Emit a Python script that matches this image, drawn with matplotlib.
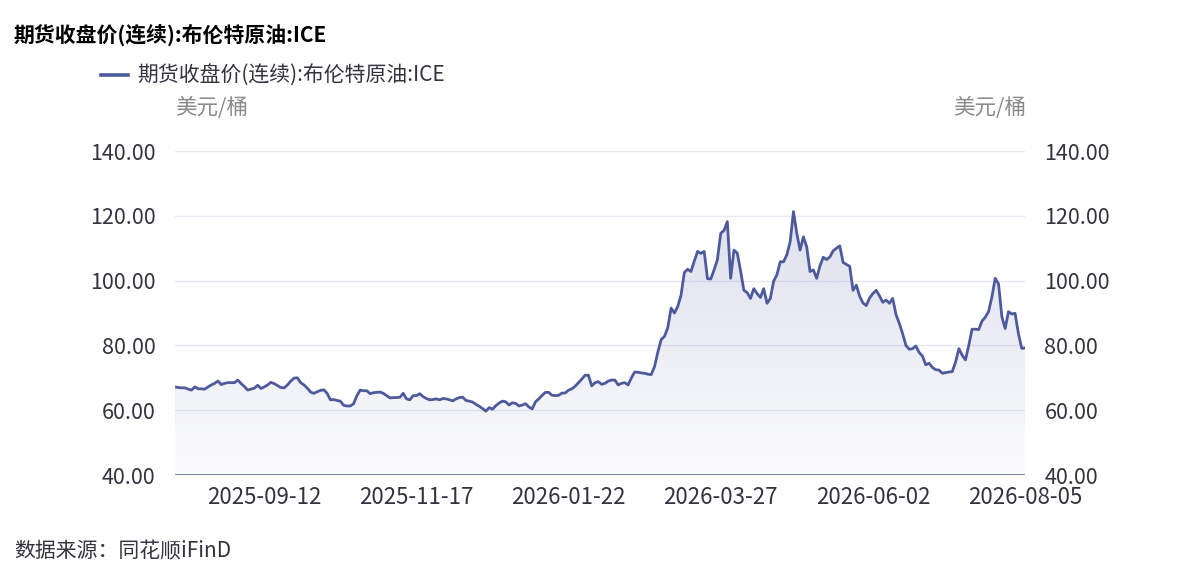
import numpy as np
import pandas as pd
import matplotlib
matplotlib.use("Agg")
import matplotlib.pyplot as plt
from matplotlib.patches import Polygon
from matplotlib.lines import Line2D

plt.rcParams['font.family'] = ['Noto Sans CJK SC', 'DejaVu Sans']

# ---------------- data ----------------
title = "期货收盘价(连续):布伦特原油:ICE"
series_name = "期货收盘价(连续):布伦特原油:ICE"
unit = "美元/桶"
source = "数据来源：同花顺iFinD"

holidays = ["2025-12-25", "2026-01-01", "2026-04-03"]
dates = pd.bdate_range("2025-08-06", "2026-08-05")
dates = dates[~dates.isin(pd.to_datetime(holidays))]

tick_dates = ["2025-09-12", "2025-11-17", "2026-01-22", "2026-03-27", "2026-06-02", "2026-08-05"]
y_ticks = [40, 60, 80, 100, 120, 140]

price = [
    67.2, 67.0, 66.9, 66.9, 66.5, 66.2, 67.2, 66.6, 66.6, 66.5,
    67.2, 67.8, 68.3, 69.0, 67.9, 68.3, 68.5, 68.5, 68.5, 69.3,
    68.2, 67.3, 66.2, 66.5, 66.8, 67.7, 66.7, 67.2, 67.8, 68.6,
    68.2, 67.6, 67.0, 66.9, 67.8, 69.0, 69.9, 70.0, 68.5, 67.8,
    66.8, 65.6, 65.2, 65.7, 66.1, 66.3, 65.2, 63.2, 63.3, 63.0,
    62.8, 61.5, 61.3, 61.3, 62.0, 64.5, 66.2, 66.0, 66.0, 65.1,
    65.4, 65.5, 65.6, 65.2, 64.5, 63.8,
    63.9, 63.9, 64.0, 65.2, 63.5, 63.2, 64.5, 64.5, 65.1, 64.2,
    63.6, 63.2, 63.3, 63.5, 63.2, 63.6, 63.5, 63.2, 62.9, 63.5,
    63.9, 64.0, 63.0, 62.8, 62.5, 61.8, 61.2, 60.5, 59.7, 60.8,
    60.3, 61.4, 62.2, 62.8, 62.6, 61.6, 62.3, 62.1, 61.3, 61.6,
    62.0, 61.0, 60.4, 62.6, 63.5, 64.6, 65.5, 65.5, 64.6, 64.5,
    64.6, 65.3, 65.3, 66.2, 66.6, 67.4, 68.5, 69.6, 70.8, 70.8,
    67.5, 68.5,
    68.8, 68.0, 68.3, 69.0, 69.3, 69.3, 67.8, 68.3, 68.5, 67.8,
    70.0, 71.8, 71.7, 71.5, 71.4, 71.1, 71.0, 73.5, 78.0, 81.8,
    82.8, 85.5, 91.5, 90.0, 92.0, 95.5, 102.5, 103.5, 102.8, 106.0,
    109.0, 108.4, 109.0, 100.6, 100.5, 103.3, 106.5, 114.6, 115.5, 118.2,
    100.7, 109.4, 108.5, 103.0, 97.0, 96.3, 94.5, 97.5, 96.0, 94.8,
    97.5, 93.0, 94.5, 99.8, 101.8, 105.8, 105.8, 108.0, 112.0, 121.3,
    114.6, 109.4, 113.5, 110.4, 102.8, 103.3, 100.7,
    104.5, 107.2, 106.5, 107.3, 109.2, 110.0, 110.7, 105.6, 105.0, 104.4,
    97.0, 98.6, 95.2, 93.1, 92.3, 94.6, 96.0, 97.0, 95.3, 93.3,
    94.0, 93.0, 94.5, 89.5, 86.8, 83.6, 80.0, 78.8, 79.0, 79.8,
    77.8, 76.7, 74.0, 74.5, 73.2, 72.5, 72.4, 71.4, 71.6, 71.8,
    71.9, 74.8, 79.0, 77.0, 75.5, 80.0, 85.0, 85.0, 84.9, 87.5,
    88.7, 90.5, 95.0, 100.7, 99.0, 88.9, 85.2, 90.4, 89.7, 89.9,
    83.7, 79.1, 79.2,
]

# ---------------- styling ----------------
LINE_C = "#4d5a9c"
GRID_C = "#e8e8f1"
AXIS_C = "#5d69a3"
TXT_C = "#333340"
UNIT_C = "#8a8a8a"

W, H = 1179, 570
fig = plt.figure(figsize=(W / 100, H / 100), dpi=100)
fig.patch.set_facecolor("white")

ax = fig.add_axes([175 / W, (H - 475) / H, 850 / W, 324 / H])
n = len(price)
x = np.arange(n)
ymin, ymax = y_ticks[0], y_ticks[-1]

# gradient area
verts = [(0, ymin)] + list(zip(x, price)) + [(n - 1, ymin)]
poly = Polygon(verts, closed=True, facecolor="none", edgecolor="none")
ax.add_patch(poly)
top = max(price)
grad = np.zeros((256, 1, 4))
rgb = np.array(matplotlib.colors.to_rgb(LINE_C))
grad[:, 0, :3] = rgb
grad[:, 0, 3] = np.linspace(0.02, 0.19, 256)
im = ax.imshow(grad, extent=[0, n - 1, ymin, top], origin="lower",
               aspect="auto", interpolation="bilinear", zorder=1)
im.set_clip_path(poly)

ax.plot(x, price, color=LINE_C, lw=2.0, zorder=3, solid_joinstyle="round")

ax.set_xlim(0, n - 1)
ax.set_ylim(ymin, ymax)

for v in y_ticks[1:]:
    ax.axhline(v, color=GRID_C, lw=1.0, zorder=0)
ax.axhline(ymin, color=AXIS_C, lw=1.2, zorder=4)

for s in ax.spines.values():
    s.set_visible(False)

date_strs = [d.strftime("%Y-%m-%d") for d in dates]
tick_pos = [date_strs.index(d) for d in tick_dates]
ax.set_xticks(tick_pos)
ax.set_xticklabels(tick_dates)
ax.set_yticks(y_ticks)
ax.set_yticklabels([f"{v:.2f}" for v in y_ticks])
ax.tick_params(axis="x", length=0, pad=8, labelsize=16, labelcolor=TXT_C)
ax.tick_params(axis="y", length=0, pad=14, labelsize=15.5, labelcolor=TXT_C,
               labelleft=True, labelright=True)
ax.set_facecolor("none")

# texts
fig.text(14 / W, 1 - 35 / H, title, fontsize=15, fontweight="bold",
         color="black", va="center", ha="left")
fig.add_artist(Line2D([101 / W, 128 / W], [1 - 75 / H, 1 - 75 / H],
                      color=LINE_C, lw=2.6, transform=fig.transFigure))
fig.text(137 / W, 1 - 75 / H, series_name, fontsize=15, color=TXT_C,
         va="center", ha="left")
fig.text(175 / W, 1 - 108 / H, unit, fontsize=15.5, color=UNIT_C,
         va="center", ha="left")
fig.text(1026 / W, 1 - 108 / H, unit, fontsize=15.5, color=UNIT_C,
         va="center", ha="right")
fig.text(14 / W, 1 - 551 / H, source, fontsize=15, color=TXT_C,
         va="center", ha="left")

fig.savefig("out.png", dpi=100)
